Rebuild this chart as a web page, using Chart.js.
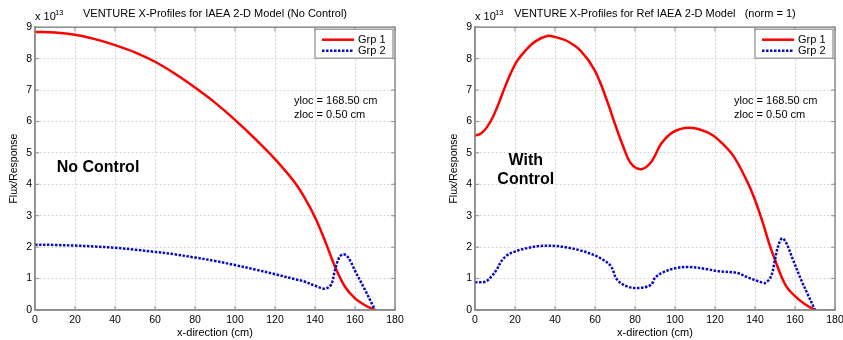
<!DOCTYPE html>
<html>
<head>
<meta charset="utf-8">
<title>VENTURE X-Profiles</title>
<script src="https://cdn.jsdelivr.net/npm/chart.js@4.4.1/dist/chart.umd.min.js"></script>
<style>
  body { margin: 0; background: #fff; overflow: hidden; }
  .panel { position: absolute; top: 0; }
</style>
</head>
<body>
<div class="panel" style="left:0"><canvas id="chartNoControl" width="412" height="340"></canvas></div>
<div class="panel" style="left:440px"><canvas id="chartWithControl" width="415" height="340"></canvas></div>
<script>
// valores (fluxo em unidades de 1e13)
const xTicks = [0, 20, 40, 60, 80, 100, 120, 140, 160, 180];
const yTicks = [0, 1, 2, 3, 4, 5, 6, 7, 8, 9];
const groupLabels = ["Grp 1", "Grp 2"];

// sem controle
const noCtrlGrp1X = [0, 10, 20, 30, 40, 50, 60, 70, 80, 90, 100, 110, 120, 130, 135, 140, 145, 150, 155, 160, 165, 170];
const noCtrlGrp1Y = [8.85, 8.83, 8.76, 8.62, 8.43, 8.2, 7.9, 7.52, 7.08, 6.6, 6.05, 5.45, 4.8, 4.05, 3.55, 2.95, 2.2, 1.38, 0.74, 0.37, 0.15, 0];
const noCtrlGrp2X = [0, 10, 20, 30, 40, 50, 60, 70, 80, 90, 100, 110, 120, 130, 135, 140, 145, 148, 150, 152, 154, 156, 158, 160, 165, 170];
const noCtrlGrp2Y = [2.08, 2.07, 2.05, 2.02, 1.98, 1.92, 1.85, 1.77, 1.67, 1.56, 1.43, 1.29, 1.14, 0.98, 0.9, 0.77, 0.68, 0.8, 1.27, 1.66, 1.77, 1.72, 1.52, 1.25, 0.64, 0];

// com controle
const ctrlGrp1X = [0, 3, 6, 9, 12, 15, 18, 21, 25, 30, 36, 40, 46, 53, 60, 66, 70, 74, 78, 83, 88, 93, 99, 107, 116, 122, 129, 136, 140, 144, 147, 150, 153, 156, 160, 165, 170];
const ctrlGrp1Y = [5.55, 5.62, 5.82, 6.15, 6.6, 7.1, 7.55, 7.92, 8.24, 8.54, 8.72, 8.69, 8.56, 8.24, 7.61, 6.66, 5.92, 5.22, 4.66, 4.48, 4.7, 5.28, 5.66, 5.8, 5.66, 5.4, 4.92, 4.1, 3.5, 2.76, 2.13, 1.6, 1.1, 0.72, 0.44, 0.18, 0];
const ctrlGrp2X = [0, 5, 8, 11, 13, 16, 20, 26, 33, 40, 46, 53, 59, 64, 68, 71, 76, 82, 88, 90, 94, 101, 107, 116, 122, 131, 137, 142, 145, 148, 150, 151.5, 153.5, 155.5, 159, 163, 166, 170];
const ctrlGrp2Y = [0.88, 0.9, 1.05, 1.3, 1.54, 1.74, 1.86, 1.97, 2.04, 2.04, 1.99, 1.89, 1.76, 1.6, 1.39, 0.97, 0.75, 0.7, 0.8, 1.02, 1.2, 1.34, 1.37, 1.3, 1.23, 1.18, 1.02, 0.91, 0.86, 1.07, 1.6, 2.02, 2.28, 2.15, 1.6, 0.97, 0.55, 0];

const FONT = "'Liberation Sans', Arial, sans-serif";
const FRAME = "#8c8c8c";

function makeSet(label, xs, ys, color, dash, order) {
  return {
    label: label,
    data: xs.map((v, i) => ({ x: v, y: ys[i] })),
    borderColor: color,
    backgroundColor: color,
    borderWidth: 2.5,
    borderDash: dash,
    pointRadius: 0,
    tension: 0.35,
    fill: false,
    order: order
  };
}

// moldura estilo matlab, legenda e anotações
const matlabLook = {
  id: "matlabLook",
  afterDraw(chart, args, opts) {
    const { ctx, chartArea: a, scales: { x, y } } = chart;
    ctx.save();
    ctx.strokeStyle = FRAME;
    ctx.lineWidth = 1;
    ctx.setLineDash([]);
    ctx.beginPath();
    x.ticks.forEach(t => {
      const px = x.getPixelForValue(t.value);
      ctx.moveTo(px, a.bottom); ctx.lineTo(px, a.bottom - 4);
      ctx.moveTo(px, a.top); ctx.lineTo(px, a.top + 4);
    });
    y.ticks.forEach(t => {
      const py = y.getPixelForValue(t.value);
      ctx.moveTo(a.left, py); ctx.lineTo(a.left + 4, py);
      ctx.moveTo(a.right, py); ctx.lineTo(a.right - 4, py);
    });
    ctx.stroke();
    ctx.lineWidth = 1.5;
    ctx.strokeRect(a.left, a.top, a.right - a.left, a.bottom - a.top);

    // expoente
    ctx.fillStyle = "#000";
    ctx.textBaseline = "middle";
    ctx.textAlign = "left";
    ctx.font = "11px " + FONT;
    ctx.fillText("x 10", a.left, a.top - 10);
    ctx.font = "7.5px " + FONT;
    ctx.fillText("13", a.left + 20, a.top - 14);

    // legenda
    const bw = 78, bh = 29;
    const bx = a.right - 2 - bw, by = a.top + 2;
    ctx.fillStyle = "#fff";
    ctx.fillRect(bx, by, bw, bh);
    ctx.strokeStyle = FRAME;
    ctx.lineWidth = 1.2;
    ctx.strokeRect(bx, by, bw, bh);
    chart.data.datasets.forEach((ds, i) => {
      const ly = by + 10.5 + i * 11;
      ctx.strokeStyle = ds.borderColor;
      ctx.lineWidth = ds.borderWidth;
      ctx.setLineDash(ds.borderDash || []);
      ctx.beginPath();
      ctx.moveTo(bx + 7, ly);
      ctx.lineTo(bx + 39, ly);
      ctx.stroke();
      ctx.setLineDash([]);
      ctx.fillStyle = "#000";
      ctx.font = "11px " + FONT;
      ctx.fillText(ds.label, bx + 43, ly);
    });

    // textos
    (opts.notes || []).forEach(n => {
      ctx.font = (n.bold ? "bold 16px " : "11px ") + FONT;
      ctx.textAlign = n.bold ? "center" : "left";
      ctx.fillStyle = "#000";
      ctx.fillText(n.text, x.getPixelForValue(n.x), y.getPixelForValue(n.y));
    });
    ctx.restore();
  }
};

function buildChart(id, title, sets, notes, padRight) {
  const ctx = document.getElementById(id).getContext("2d");
  return new Chart(ctx, {
    type: "line",
    data: { datasets: sets },
    options: {
      responsive: false,
      animation: false,
      layout: { padding: { left: 0, right: padRight, top: 0, bottom: 0 } },
      plugins: {
        legend: { display: false },
        tooltip: { enabled: false },
        title: {
          display: true,
          text: title,
          fullSize: false,
          color: "#000",
          font: { family: FONT, size: 11, weight: "normal" },
          padding: { top: 7, bottom: 7 }
        },
        matlabLook: { notes: notes }
      },
      scales: {
        x: {
          type: "linear",
          min: 0,
          max: 180,
          afterBuildTicks: s => { s.ticks = xTicks.map(v => ({ value: v })); },
          afterFit: s => { s.height = 30; s.paddingLeft = 0; s.paddingRight = 0; },
          ticks: { color: "#000", font: { family: FONT, size: 10.5 }, padding: 4, autoSkip: false, maxRotation: 0 },
          grid: { color: "#d4d4d4", lineWidth: 1, drawTicks: false },
          border: { color: FRAME, width: 1.5, dash: [2, 2] },
          title: { display: true, text: "x-direction (cm)", color: "#000", font: { family: FONT, size: 11 }, padding: { top: 0, bottom: 0 } }
        },
        y: {
          type: "linear",
          min: 0,
          max: 9,
          afterBuildTicks: s => { s.ticks = yTicks.map(v => ({ value: v })); },
          afterFit: s => { s.width = 35; },
          ticks: { color: "#000", font: { family: FONT, size: 10.5 }, padding: 3 },
          grid: { color: "#d4d4d4", lineWidth: 1, drawTicks: false },
          border: { color: FRAME, width: 1.5, dash: [2, 2] },
          title: { display: true, text: "Flux/Response", color: "#000", font: { family: FONT, size: 10.5 }, padding: { top: 8, bottom: 0 } }
        }
      }
    },
    plugins: [matlabLook]
  });
}

window.onload = () => {
  buildChart("chartNoControl", "VENTURE X-Profiles for IAEA 2-D Model (No Control)", [
    makeSet(groupLabels[0], noCtrlGrp1X, noCtrlGrp1Y, "#ff0000", [], 1),
    makeSet(groupLabels[1], noCtrlGrp2X, noCtrlGrp2Y, "#0a0ac0", [2.5, 1.5], 0)
  ], [
    { text: "yloc = 168.50 cm", x: 129.5, y: 6.65 },
    { text: "zloc = 0.50 cm", x: 129.5, y: 6.22 },
    { text: "No Control", x: 31.5, y: 4.52, bold: true }
  ], 17);

  buildChart("chartWithControl", "VENTURE X-Profiles for Ref IAEA 2-D Model   (norm = 1)", [
    makeSet(groupLabels[0], ctrlGrp1X, ctrlGrp1Y, "#ff0000", [], 1),
    makeSet(groupLabels[1], ctrlGrp2X, ctrlGrp2Y, "#0a0ac0", [2.5, 1.5], 0)
  ], [
    { text: "yloc = 168.50 cm", x: 129.5, y: 6.65 },
    { text: "zloc = 0.50 cm", x: 129.5, y: 6.22 },
    { text: "With", x: 25.4, y: 4.76, bold: true },
    { text: "Control", x: 25.4, y: 4.16, bold: true }
  ], 20);
};
</script>
</body>
</html>
